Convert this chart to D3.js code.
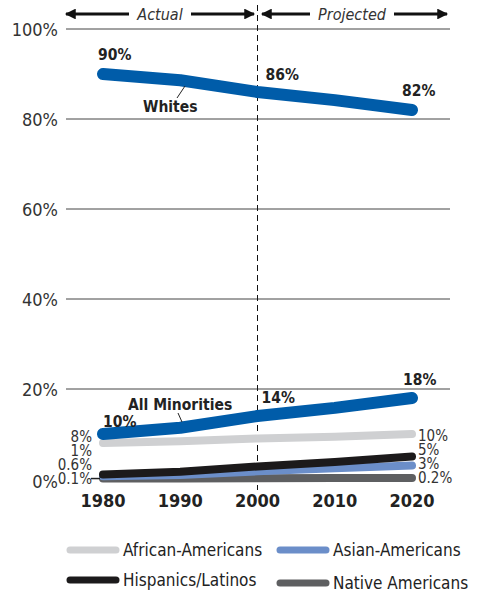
<!DOCTYPE html>
<html>
<head>
<meta charset="utf-8">
<script src="https://cdn.jsdelivr.net/npm/d3@7"></script>
<style>
  body { margin: 0; background: #fff; }
  text { font-family: "DejaVu Sans Condensed", "DejaVu Sans", sans-serif; font-stretch: condensed; }
</style>
</head>
<body>
<script>
var years = [1980, 1990, 2000, 2010, 2020]
var whites = [90, 88.6, 86, 84.2, 82]
var minorities = [10, 11.4, 14, 15.8, 18]
var african = [8, 8.4, 9, 9.4, 10]
var hispanic = [1, 1.6, 2.8, 3.8, 5]
var asian = [0.6, 0.9, 1.7, 2.4, 3]
var native = [0.1, 0.1, 0.15, 0.2, 0.2]
var yTicks = [0, 20, 40, 60, 80, 100]

var width = 477, height = 594
var margin = {left: 66, right: 27, top: 29, bottom: 115}

var svg = d3.select("body").append("svg")
  .attr("width", width)
  .attr("height", height)

var x = d3.scaleLinear().domain([1980, 2020]).range([103, 412])
var y = d3.scaleLinear().domain([0, 100]).range([479, 29])

// gridlines + y labels
svg.selectAll("line.grid")
  .data(yTicks.filter(d => d > 0))
  .enter().append("line")
  .attr("class", "grid")
  .attr("x1", margin.left).attr("x2", width - margin.right)
  .attr("y1", d => y(d)).attr("y2", d => y(d))
  .attr("stroke", "#444").attr("stroke-width", 1)

svg.selectAll("text.ytick")
  .data(yTicks)
  .enter().append("text")
  .attr("class", "ytick")
  .attr("x", 58)
  .attr("y", d => y(d) + (d == 0 ? 9 : 7))
  .attr("text-anchor", "end")
  .attr("font-size", 18)
  .attr("fill", "#333")
  .text(d => d + "%")

// dashed divider at 2000
svg.append("line")
  .attr("x1", x(2000)).attr("x2", x(2000))
  .attr("y1", 5).attr("y2", 490)
  .attr("stroke", "#111").attr("stroke-width", 1)
  .attr("stroke-dasharray", "6,4")

// top arrows
var defs = svg.append("defs")
defs.append("marker").attr("id", "ah")
  .attr("viewBox", "0 0 10 10").attr("refX", 9).attr("refY", 5)
  .attr("markerWidth", 5).attr("markerHeight", 3.6).attr("markerUnits", "strokeWidth")
  .attr("orient", "auto-start-reverse")
  .append("path").attr("d", "M0,0L10,5L0,10Z").attr("fill", "#111")

function arrowPair(x0, x1, label, cx, tw) {
  svg.append("line")
    .attr("x1", x0).attr("x2", cx - tw / 2).attr("y1", 14).attr("y2", 14)
    .attr("stroke", "#111").attr("stroke-width", 3)
    .attr("marker-start", "url(#ah)")
  svg.append("line")
    .attr("x1", cx + tw / 2).attr("x2", x1).attr("y1", 14).attr("y2", 14)
    .attr("stroke", "#111").attr("stroke-width", 3)
    .attr("marker-end", "url(#ah)")
  svg.append("text")
    .attr("x", cx).attr("y", 20)
    .attr("text-anchor", "middle")
    .attr("font-size", 16).attr("font-style", "italic").attr("fill", "#333")
    .text(label)
}
arrowPair(66, 254, "Actual", 160, 62)
arrowPair(262, 447, "Projected", 352, 84)

// series
var line = d3.line()
  .x((d, i) => x(years[i]))
  .y(d => y(d))

var series = [
  {vals: native, color: "#5e5f61", w: 8},
  {vals: asian, color: "#6b8ec9", w: 8},
  {vals: hispanic, color: "#1c1a1b", w: 8},
  {vals: african, color: "#cfd0d2", w: 8},
  {vals: minorities, color: "#005ca9", w: 12},
  {vals: whites, color: "#005ca9", w: 12}
]

svg.selectAll("path.series")
  .data(series)
  .enter().append("path")
  .attr("class", "series")
  .attr("d", d => line(d.vals))
  .attr("fill", "none")
  .attr("stroke", d => d.color)
  .attr("stroke-width", d => d.w)
  .attr("stroke-linecap", "round")
  .attr("stroke-linejoin", "round")

// bold value labels
var boldLabels = [
  {t: "90%", x: x(1980) - 5, y: y(whites[0]) - 14},
  {t: "86%", x: x(2000) + 8, y: y(whites[2]) - 12},
  {t: "82%", x: x(2020) - 10, y: y(whites[4]) - 14},
  {t: "Whites", x: 143, y: 112},
  {t: "All Minorities", x: 128, y: 410},
  {t: "10%", x: x(1980), y: 427},
  {t: "14%", x: x(2000) + 4, y: 403},
  {t: "18%", x: x(2020) - 9, y: 385}
]
svg.selectAll("text.bl")
  .data(boldLabels)
  .enter().append("text")
  .attr("class", "bl")
  .attr("x", d => d.x).attr("y", d => d.y)
  .attr("font-size", 15.5).attr("font-weight", "bold").attr("fill", "#222")
  .text(d => d.t)

// leaders
svg.append("line").attr("x1", 177).attr("y1", 98).attr("x2", 185).attr("y2", 86)
  .attr("stroke", "#222").attr("stroke-width", 1)
svg.append("line").attr("x1", 178).attr("y1", 413).attr("x2", 182).attr("y2", 422)
  .attr("stroke", "#222").attr("stroke-width", 1)

// end labels
var leftLabels = ["8%", "1%", "0.6%", "0.1%"]
var rightLabels = ["10%", "5%", "3%", "0.2%"]
svg.selectAll("text.ll")
  .data(leftLabels)
  .enter().append("text")
  .attr("class", "ll")
  .attr("x", 92).attr("y", (d, i) => 442 + i * 14)
  .attr("text-anchor", "end")
  .attr("font-size", 15).attr("fill", "#333")
  .text(d => d)
svg.append("line").attr("x1", 91).attr("x2", 100).attr("y1", y(0.1)).attr("y2", y(0.1))
  .attr("stroke", "#222").attr("stroke-width", 1.5)

svg.selectAll("text.rl")
  .data(rightLabels)
  .enter().append("text")
  .attr("class", "rl")
  .attr("x", 418).attr("y", (d, i) => 441 + i * 14)
  .attr("font-size", 15).attr("fill", "#333")
  .text(d => d)

// x axis labels
svg.selectAll("text.xl")
  .data(years)
  .enter().append("text")
  .attr("class", "xl")
  .attr("x", d => x(d)).attr("y", 507)
  .attr("text-anchor", "middle")
  .attr("font-size", 18).attr("font-weight", "bold").attr("fill", "#222")
  .text(d => d)

// legend
var legend = [
  {name: "African-Americans", color: "#cfd0d2", x: 66, y: 550},
  {name: "Asian-Americans", color: "#6b8ec9", x: 276, y: 550},
  {name: "Hispanics/Latinos", color: "#1c1a1b", x: 66, y: 580},
  {name: "Native Americans", color: "#5e5f61", x: 276, y: 583}
]
var lg = svg.selectAll("g.lg")
  .data(legend)
  .enter().append("g").attr("class", "lg")
lg.append("line")
  .attr("x1", d => d.x + 4).attr("x2", d => d.x + 50)
  .attr("y1", d => d.y).attr("y2", d => d.y)
  .attr("stroke", d => d.color).attr("stroke-width", 7)
  .attr("stroke-linecap", "round")
lg.append("text")
  .attr("x", d => d.x + 57).attr("y", d => d.y + 6)
  .attr("font-size", 17).attr("fill", "#222")
  .text(d => d.name)
</script>
</body>
</html>
